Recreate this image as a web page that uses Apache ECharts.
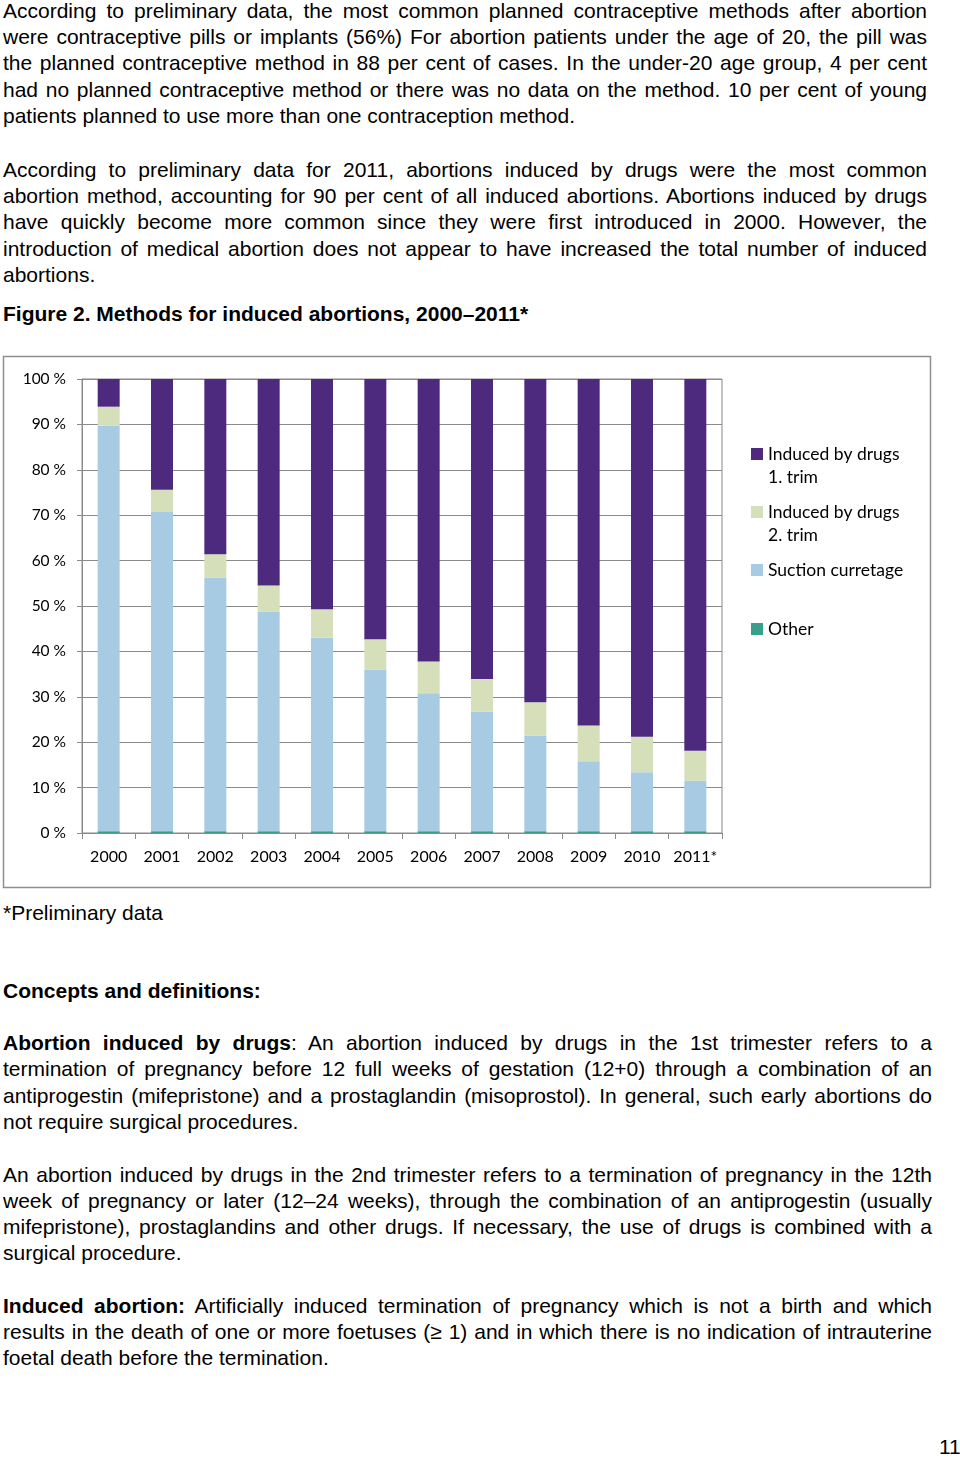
<!DOCTYPE html>
<html>
<head>
<meta charset="utf-8">
<script src="https://cdn.jsdelivr.net/npm/echarts@6/dist/echarts.min.js"></script>
<style>
  html, body { margin: 0; padding: 0; background: #fff; }
  body { width: 960px; height: 1457px; position: relative; overflow: hidden;
         font-family: "Liberation Sans", Arial, sans-serif; font-size: 21px; color: #000; }
  .ln { position: absolute; left: 3px; height: 26px; line-height: 26px; white-space: nowrap; }
  .j { text-align: justify; text-align-last: justify; }
  .w1 { width: 924px; }
  .w2 { width: 929px; }
  #chart { position: absolute; left: 0; top: 350px; width: 960px; height: 545px; }
</style>
</head>
<body>
<div class="ln j w1" style="top:-2px">According to preliminary data, the most common planned contraceptive methods after abortion</div>
<div class="ln j w1" style="top:24px">were contraceptive pills or implants (56%) For abortion patients under the age of 20, the pill was</div>
<div class="ln j w1" style="top:50px">the planned contraceptive method in 88 per cent of cases. In the under-20 age group, 4 per cent</div>
<div class="ln j w1" style="top:77px">had no planned contraceptive method or there was no data on the method. 10 per cent of young</div>
<div class="ln" style="top:103px">patients planned to use more than one contraception method.</div>

<div class="ln j w1" style="top:157px">According to preliminary data for 2011, abortions induced by drugs were the most common</div>
<div class="ln j w1" style="top:183px">abortion method, accounting for 90 per cent of all induced abortions. Abortions induced by drugs</div>
<div class="ln j w1" style="top:209px">have quickly become more common since they were first introduced in 2000. However, the</div>
<div class="ln j w1" style="top:236px">introduction of medical abortion does not appear to have increased the total number of induced</div>
<div class="ln" style="top:262px">abortions.</div>

<div class="ln" style="top:301px;font-weight:bold">Figure 2. Methods for induced abortions, 2000–2011*</div>

<div id="chart"></div>

<div class="ln" style="top:900px">*Preliminary data</div>
<div class="ln" style="top:978px;font-weight:bold">Concepts and definitions:</div>

<div class="ln j w2" style="top:1030px"><b>Abortion induced by drugs</b>: An abortion induced by drugs in the 1st trimester refers to a</div>
<div class="ln j w2" style="top:1056px">termination of pregnancy before 12 full weeks of gestation (12+0) through a combination of an</div>
<div class="ln j w2" style="top:1083px">antiprogestin (mifepristone) and a prostaglandin (misoprostol). In general, such early abortions do</div>
<div class="ln" style="top:1109px">not require surgical procedures.</div>

<div class="ln j w2" style="top:1162px">An abortion induced by drugs in the 2nd trimester refers to a termination of pregnancy in the 12th</div>
<div class="ln j w2" style="top:1188px">week of pregnancy or later (12–24 weeks), through the combination of an antiprogestin (usually</div>
<div class="ln j w2" style="top:1214px">mifepristone), prostaglandins and other drugs. If necessary, the use of drugs is combined with a</div>
<div class="ln" style="top:1240px">surgical procedure.</div>

<div class="ln j w2" style="top:1293px"><b>Induced abortion:</b> Artificially induced termination of pregnancy which is not a birth and which</div>
<div class="ln j w2" style="top:1319px">results in the death of one or more foetuses (≥ 1) and in which there is no indication of intrauterine</div>
<div class="ln" style="top:1345px">foetal death before the termination.</div>

<div class="ln" style="top:1434px;left:939px">11</div>

<script>
// ---- data ----
var years = ['2000','2001','2002','2003','2004','2005','2006','2007','2008','2009','2010','2011*'];
var seriesNames = ['Induced by drugs 1. trim', 'Induced by drugs 2. trim', 'Suction curretage', 'Other'];
var drugs1Trim = [6.1, 24.4, 38.6, 45.5, 50.7, 57.3, 62.2, 66.1, 71.2, 76.3, 78.8, 81.9];
var drugs2Trim = [4.2, 4.9, 5.1, 5.8, 6.3, 6.7, 7.0, 7.2, 7.3, 7.9, 7.8, 6.6];
var suction    = [89.3, 70.3, 55.9, 48.3, 42.6, 35.6, 30.4, 26.3, 21.1, 15.4, 13.0, 11.1];
var other      = [0.4, 0.4, 0.4, 0.4, 0.4, 0.4, 0.4, 0.4, 0.4, 0.4, 0.4, 0.4];
var yTicks = [0, 10, 20, 30, 40, 50, 60, 70, 80, 90, 100];

var colors = {
  d1: '#4E2A7F',
  d2: '#D5E0BA',
  su: '#A8CBE4',
  ot: '#3A9E8D'
};
var font = 'Lato, "Open Sans", sans-serif';
var gridColor = '#8a8a8a';

var chart = echarts.init(document.getElementById('chart'), null, { renderer: 'canvas' });

function legendFor(name, top, twoLine) {
  return {
    data: [name],
    left: 751,
    top: top,
    orient: 'vertical',
    padding: 0,
    itemWidth: 12,
    itemHeight: 12,
    selectedMode: false,
    icon: 'rect',
    formatter: function (n) {
      if (twoLine) {
        return ' \n' + n.replace(' 1. trim', '\n1. trim').replace(' 2. trim', '\n2. trim');
      }
      return n;
    },
    textStyle: {
      fontFamily: font, fontSize: 17.5, color: '#000', lineHeight: 23
    }
  };
}

var option = {
  animation: false,
  backgroundColor: '#fff',
  graphic: [{
    type: 'rect',
    shape: { x: 3.5, y: 6.5, width: 927, height: 531 },
    style: { fill: 'none', stroke: '#8f8f8f', lineWidth: 1.5 },
    silent: true
  }],
  legend: [
    legendFor(seriesNames[0], 69.5, true),
    legendFor(seriesNames[1], 127.5, true),
    legendFor(seriesNames[2], 208.5, false),
    legendFor(seriesNames[3], 267.5, false)
  ],
  grid: {
    left: 82, right: 238, top: 29, bottom: 62,
    show: true, borderColor: gridColor, borderWidth: 1, containLabel: false
  },
  xAxis: {
    type: 'category',
    data: years,
    axisLine: { show: true, lineStyle: { color: gridColor, width: 1 } },
    axisTick: { show: true, length: 6, lineStyle: { color: gridColor } },
    axisLabel: { interval: 0, fontFamily: font, fontSize: 16, color: '#000', margin: 16 }
  },
  yAxis: {
    type: 'value',
    min: 0, max: 100, interval: 10,
    axisLine: { show: true, lineStyle: { color: gridColor, width: 1 } },
    axisTick: { show: true, length: 5, lineStyle: { color: gridColor } },
    splitLine: { show: true, lineStyle: { color: gridColor, width: 1 } },
    axisLabel: {
      fontFamily: font, fontSize: 15.5, color: '#000', margin: 16,
      formatter: function (v) { return yTicks.indexOf(v) >= 0 ? v + ' %' : ''; }
    }
  },
  series: [
    { name: seriesNames[3], type: 'bar', stack: 'all', barWidth: 22, data: other, itemStyle: { color: colors.ot } },
    { name: seriesNames[2], type: 'bar', stack: 'all', barWidth: 22, data: suction, itemStyle: { color: colors.su } },
    { name: seriesNames[1], type: 'bar', stack: 'all', barWidth: 22, data: drugs2Trim, itemStyle: { color: colors.d2 } },
    { name: seriesNames[0], type: 'bar', stack: 'all', barWidth: 22, data: drugs1Trim, itemStyle: { color: colors.d1 } }
  ]
};
chart.setOption(option);
</script>
</body>
</html>
